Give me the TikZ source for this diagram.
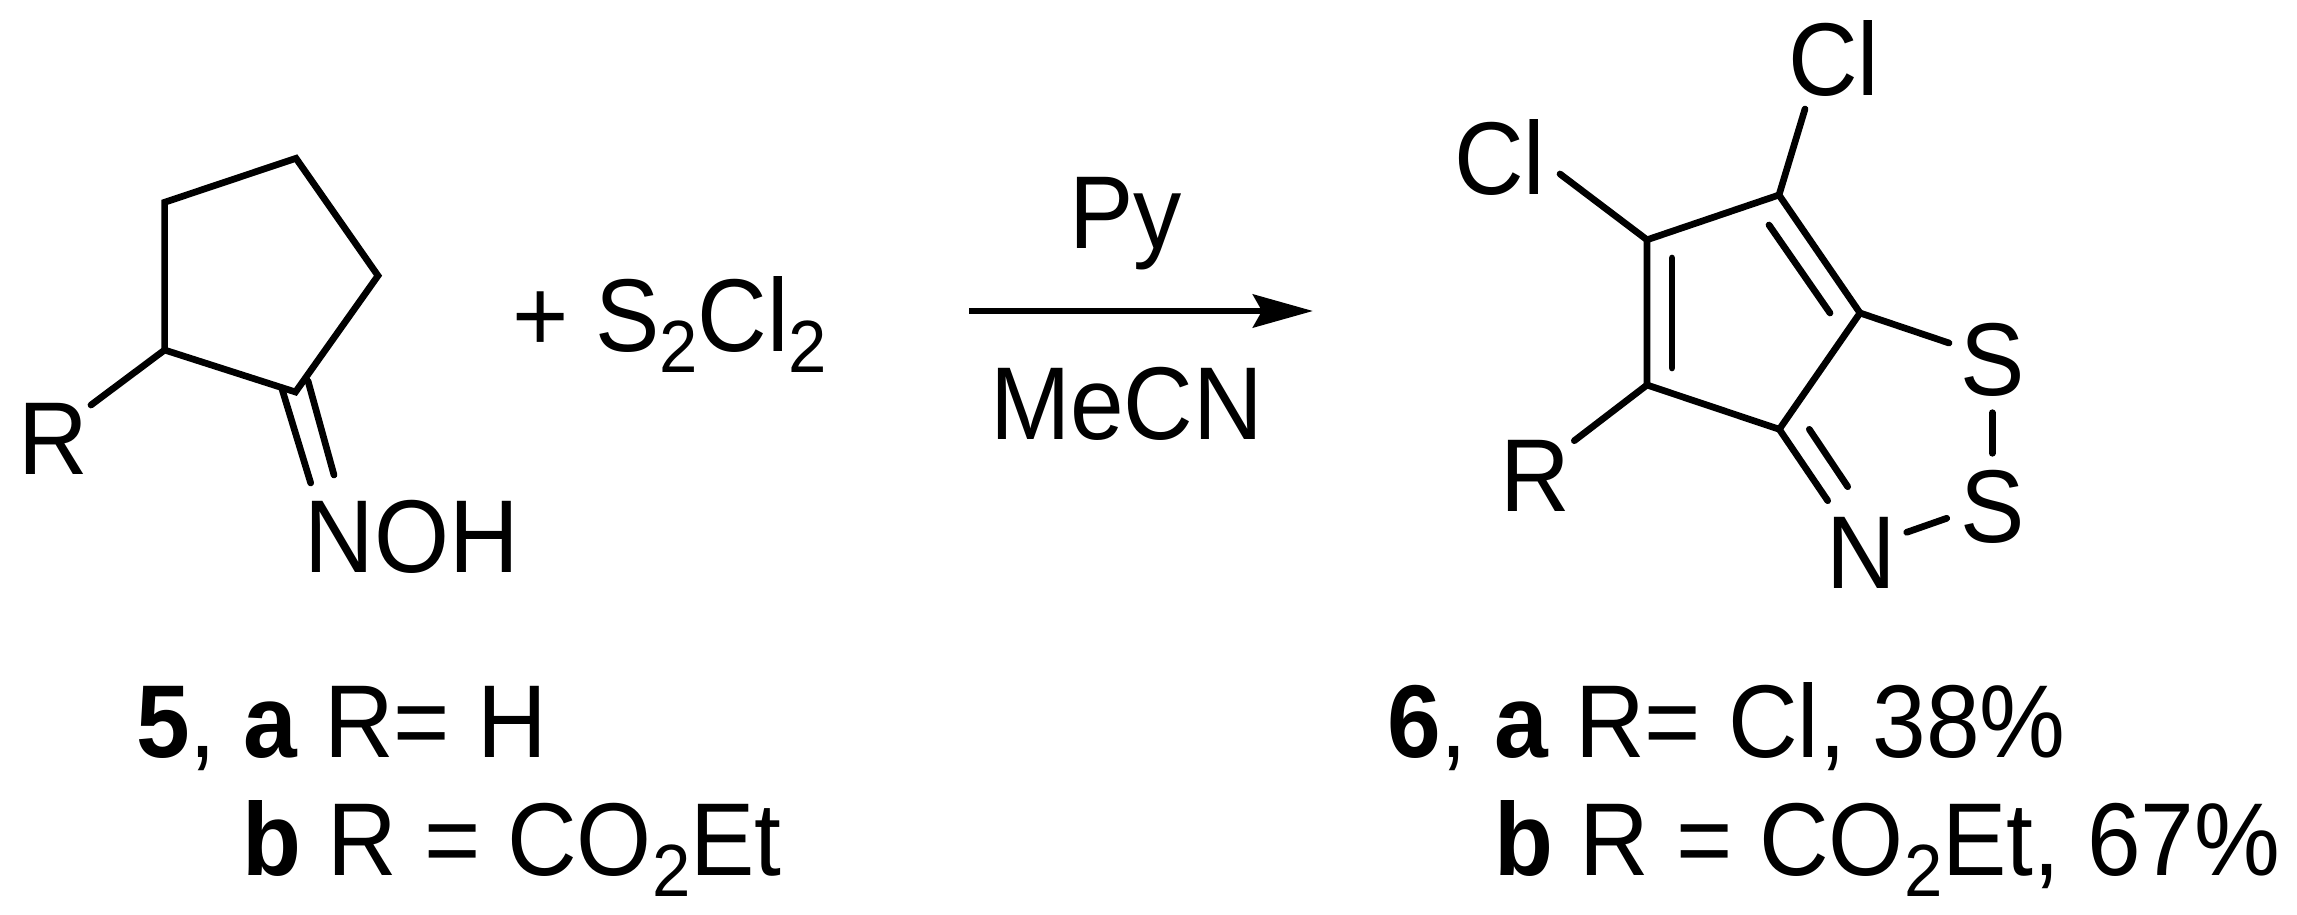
\documentclass[tikz,border=0pt]{standalone}
\usepackage{fontspec}
\setmainfont[FakeStretch=0.932]{Liberation Sans}
\usetikzlibrary{arrows.meta}
\newcommand{\lowtwo}{\raisebox{-21pt}{\fontsize{74}{78}\selectfont 2}}
\tikzset{
  x=1pt,y=-1pt,
  bond/.style={line width=6.7pt,line cap=round,line join=miter,black},
  ringbond/.style={line width=6.7pt,line join=miter,black},
  atom/.style={inner sep=0pt,outer sep=0pt,anchor=base west,font=\fontsize{103.5}{110}\selectfont},
  rxn/.style={line width=6.7pt,-{Stealth[length=60pt,width=33pt,inset=9pt]}},
}
\begin{document}
\begin{tikzpicture}
\useasboundingbox (0,0) rectangle (2297,915);
% reactant ring
\coordinate (a1) at (164.6,202.3);
\coordinate (a2) at (296,158.3);
\coordinate (a3) at (378,275.7);
\coordinate (a4) at (295.5,392);
\coordinate (a5) at (164.6,350);
\coordinate (aR) at (91,405);
\coordinate (d1s) at (281.7,388);
\coordinate (d1e) at (310.7,483);
\coordinate (d2s) at (308,381);
\coordinate (d2e) at (334,475);
\draw[ringbond] (a1) -- (a2) -- (a3) -- (a4) -- (a5) -- cycle;
\draw[bond] (a5) -- (aR);
\draw[bond] (d1s) -- (d1e);
\draw[bond] (d2s) -- (d2e);
\node[atom] (R1) at (18,474.3) {R};
\node[atom] (NOH) at (304.4,572) {NOH};
\node[atom] (plus) at (512,351) {+ S\lowtwo Cl\lowtwo};
% arrow
\coordinate (arrS) at (969,311);
\coordinate (arrE) at (1313,311);
\draw[rxn] (arrS) -- (arrE);
\node[atom] (py) at (1069,248) {Py};
\node[atom] (mecn) at (990,439) {MeCN};
% product
\coordinate (b1) at (1647,239.8);
\coordinate (b2) at (1779,195);
\coordinate (b3) at (1860,313);
\coordinate (b4) at (1779.3,429.3);
\coordinate (b5) at (1647,385);
\draw[ringbond] (b1) -- (b2) -- (b3) -- (b4) -- (b5) -- cycle;
\coordinate (i1s) at (1672,258);
\coordinate (i1e) at (1672,368);
\coordinate (i2s) at (1769,225);
\coordinate (i2e) at (1830,313);
\coordinate (n1e) at (1827.7,500.7);
\coordinate (n2s) at (1809.3,429.3);
\coordinate (n2e) at (1847.7,486.7);
\coordinate (cl1) at (1560,174);
\coordinate (cl2) at (1805,109);
\coordinate (pR) at (1574.3,440.7);
\coordinate (s1) at (1949,343);
\coordinate (ss1) at (1992.3,412.7);
\coordinate (ss2) at (1992.3,453.3);
\coordinate (ns1) at (1906.7,532.3);
\coordinate (ns2) at (1946.7,518.3);
\draw[bond] (i1s) -- (i1e);
\draw[bond] (i2s) -- (i2e);
\draw[bond] (b4) -- (n1e);
\draw[bond] (n2s) -- (n2e);
\draw[bond] (b1) -- (cl1);
\draw[bond] (b2) -- (cl2);
\draw[bond] (b5) -- (pR);
\draw[bond] (b3) -- (s1);
\draw[bond] (ss1) -- (ss2);
\draw[bond] (ns1) -- (ns2);
\node[atom] (Cl1) at (1788,96) {Cl};
\node[atom] (Cl2) at (1454,194) {Cl};
\node[atom] (R2) at (1500,511.7) {R};
\node[atom] (S1) at (1960,395.5) {S};
\node[atom] (S2) at (1960,542.5) {S};
\node[atom] (N) at (1826,588.3) {N};
% labels
\node[atom] (l5a) at (136,757) {\textbf{5}, \textbf{a} R= H};
\node[atom] (l5b) at (242,875) {\textbf{b} R = CO\lowtwo Et};
\node[atom] (l6a) at (1387,757) {\textbf{6}, \textbf{a} R= Cl, 38\%};
\node[atom] (l6b) at (1494,875) {\textbf{b} R = CO\lowtwo Et, 67\%};
\end{tikzpicture}
\end{document}
